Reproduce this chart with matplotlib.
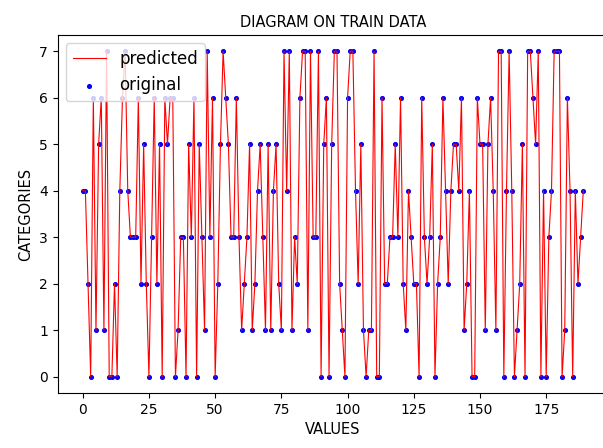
import numpy as np
import matplotlib
matplotlib.use("Agg")
import matplotlib.pyplot as plt

# category of every train sample (predicted == original)
part1 = [4, 4, 2, 0, 6, 1, 5, 6, 1, 7, 0, 0, 2, 0, 4, 6, 7, 4, 3, 3, 3, 6, 2, 5, 2, 0, 3, 6, 2, 5]
part2 = [0, 6, 5, 6, 6, 0, 1, 3, 3, 0, 5, 3, 6, 0, 5, 3, 1, 7, 3, 6, 0, 2, 5, 7, 6, 5, 3, 3, 6, 3, 1, 2]
part3 = [3, 5, 1, 2, 4, 5, 3, 1, 5, 1, 4, 5, 2, 1, 7, 4, 7, 1, 3, 2, 6, 7, 7, 1, 7, 3, 3, 7, 0, 5, 6, 0, 5, 7]
part4 = [7, 2, 1, 0, 6, 7, 7, 4, 2, 5, 1, 0, 1, 1, 7, 0, 0, 6, 2, 2, 3, 3, 5, 3, 6, 2, 1, 4, 3, 2, 2, 0]
part5 = [6, 3, 2, 3, 5, 0, 2, 3, 6, 4, 2, 4, 5, 5, 4, 6, 1, 2, 4, 0, 0, 6, 5, 5, 1, 5, 6, 4, 1, 7, 7]
part6 = [0, 4, 7, 4, 0, 1, 2, 5, 0, 7, 7, 6, 5, 7, 0, 4, 0, 3, 4, 7, 7, 7, 0, 1, 6, 4, 0, 4, 2, 3, 4]

original = part1 + part2 + part3 + part4 + part5 + part6
predicted = list(original)
values = np.arange(len(original))

fig = plt.figure(figsize=(6.03, 4.48), dpi=100)
ax = fig.add_axes([0.0957, 0.1228, 0.9131, 0.799])

ax.plot(values, predicted, color='red', linewidth=0.8, label='predicted')
ax.scatter(values, original, color='blue', s=7, label='original')

ax.set_title("DIAGRAM ON TRAIN DATA", fontsize=10.5)
ax.set_xlabel("VALUES", fontsize=10.5)
ax.set_ylabel("CATEGORIES", fontsize=10.5)
ax.set_xticks([0, 25, 50, 75, 100, 125, 150, 175])
ax.tick_params(labelsize=10)
ax.legend(loc='upper left', fontsize=12)

fig.savefig("out.png", dpi=100)
